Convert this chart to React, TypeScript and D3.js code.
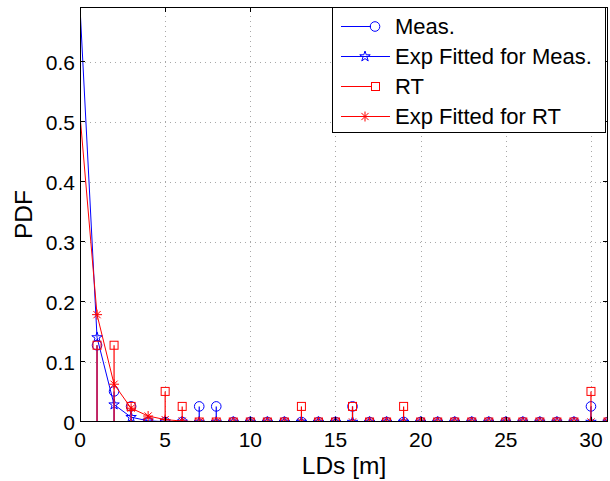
import React from 'react';
import * as d3 from 'd3';

// LD values (m)
const LD = [0, 1, 2, 3, 4, 5, 6, 7, 8, 9, 10, 11, 12, 13, 14, 15, 16, 17, 18, 19, 20, 21, 22, 23, 24, 25, 26, 27, 28, 29, 30, 31];
// Measured PDF (stems), from x = 1
const MEAS = [null, 0.128, 0.051, 0.026, 0, 0, 0, 0.026, 0.026, 0, 0, 0, 0, 0, 0, 0, 0.026, 0, 0, 0, 0, 0, 0, 0, 0, 0, 0, 0, 0, 0, 0.026, 0];
// Exponential fit for measurement
const EXP_MEAS = [0.692, 0.141, 0.029, 0.008, 0.002, 0.0005, 0.0001, 0, 0, 0, 0, 0, 0, 0, 0, 0, 0, 0, 0, 0, 0, 0, 0, 0, 0, 0, 0, 0, 0, 0, 0, 0];
// Ray tracing PDF (stems)
const RT = [null, 0.128, 0.128, 0.026, 0, 0.051, 0.026, 0, 0, 0, 0, 0, 0, 0.026, 0, 0, 0.026, 0, 0, 0.026, 0, 0, 0, 0, 0, 0, 0, 0, 0, 0, 0.051, 0];
// Exponential fit for RT
const EXP_RT = [0.512, 0.179, 0.063, 0.023, 0.01, 0.004, 0.0015, 0.0005, 0.0002, 0, 0, 0, 0, 0, 0, 0, 0, 0, 0, 0, 0, 0, 0, 0, 0, 0, 0, 0, 0, 0, 0, 0];

const X_TICKS = [0, 5, 10, 15, 20, 25, 30];
const Y_TICKS = [0, 0.1, 0.2, 0.3, 0.4, 0.5, 0.6];
const LEGEND = ['Meas.', 'Exp Fitted for Meas.', 'RT', 'Exp Fitted for RT'];

const W = 610, H = 481;
const L = 80, R = 608, T = 7, B = 422;
const FONT = '"Liberation Sans", Arial, Helvetica, sans-serif';
const BLUE = '#0000ff';
const RED = '#ff0000';

const x = d3.scaleLinear().domain([0, 31]).range([L, R]);
const y = d3.scaleLinear().domain([0, 0.692]).range([B, T]);

function starPath(cx: number, cy: number, Ro = 5.5) {
  const ri = Ro * 0.382;
  const pts: string[] = [];
  for (let i = 0; i < 10; i++) {
    const a = -Math.PI / 2 + (i * Math.PI) / 5;
    const r = i % 2 === 0 ? Ro : ri;
    pts.push(`${cx + r * Math.cos(a)},${cy + r * Math.sin(a)}`);
  }
  return 'M' + pts.join('L') + 'Z';
}

function asteriskPath(cx: number, cy: number, s = 5) {
  const d = s * 0.72;
  return `M${cx},${cy - s}L${cx},${cy + s}M${cx - s},${cy}L${cx + s},${cy}M${cx - d},${cy - d}L${cx + d},${cy + d}M${cx - d},${cy + d}L${cx + d},${cy - d}`;
}

const Circle = ({ cx, cy }: { cx: number; cy: number }) => (
  <circle cx={cx} cy={cy} r={4.8} fill="none" stroke={BLUE} strokeWidth={1} />
);
const Square = ({ cx, cy }: { cx: number; cy: number }) => (
  <rect x={cx - 4} y={cy - 4} width={8} height={8} fill="none" stroke={RED} strokeWidth={1} />
);
const Star = ({ cx, cy }: { cx: number; cy: number }) => (
  <path d={starPath(cx, cy)} fill="none" stroke={BLUE} strokeWidth={1} />
);
const Asterisk = ({ cx, cy }: { cx: number; cy: number }) => (
  <path d={asteriskPath(cx, cy)} fill="none" stroke={RED} strokeWidth={1} />
);

export default function App() {
  const lineGen = d3.line<number>().x((_, i) => x(LD[i])).y((d) => y(d));
  const stemIdx = LD.map((_, i) => i).filter((i) => MEAS[i] !== null);

  return (
    <svg width={W} height={H} style={{ position: 'absolute', left: 0, top: 0, background: '#fff' }}>
      <defs>
        <clipPath id="plot">
          <rect x={L} y={T} width={R - L} height={B - T} />
        </clipPath>
      </defs>
      <rect x={0} y={0} width={W} height={H} fill="#fff" />
      {/* grid */}
      <g stroke="#a8a8a8" strokeWidth={1} strokeDasharray="1 4">
        {X_TICKS.filter((t) => t > 0).map((t) => (
          <line key={'gx' + t} x1={Math.round(x(t)) + 0.5} x2={Math.round(x(t)) + 0.5} y1={B} y2={T} />
        ))}
        {Y_TICKS.filter((t) => t > 0).map((t) => (
          <line key={'gy' + t} x1={L} x2={R} y1={Math.round(y(t)) + 0.5} y2={Math.round(y(t)) + 0.5} />
        ))}
      </g>
      <g clipPath="url(#plot)">
        {/* Meas stems */}
        {stemIdx.map((i) => (
          <line key={'ms' + i} x1={x(LD[i])} x2={x(LD[i])} y1={y(0)} y2={y(MEAS[i] as number)} stroke={BLUE} strokeWidth={1.2} />
        ))}
        {stemIdx.map((i) => (
          <Circle key={'mc' + i} cx={x(LD[i])} cy={y(MEAS[i] as number)} />
        ))}
        {/* Exp fit meas */}
        <path d={lineGen(EXP_MEAS) || ''} fill="none" stroke={BLUE} strokeWidth={1} />
        {LD.filter((v) => v > 0).map((v) => (
          <Star key={'st' + v} cx={x(v)} cy={y(EXP_MEAS[v])} />
        ))}
        {/* RT stems */}
        {stemIdx.map((i) => (
          <line key={'rs' + i} x1={x(LD[i])} x2={x(LD[i])} y1={y(0)} y2={y(RT[i] as number)} stroke={RED} strokeWidth={1.2} />
        ))}
        {stemIdx.map((i) => (
          <Square key={'rq' + i} cx={x(LD[i])} cy={y(RT[i] as number)} />
        ))}
        {/* Exp fit RT */}
        <path d={lineGen(EXP_RT) || ''} fill="none" stroke={RED} strokeWidth={1} />
        {LD.filter((v) => v > 0).map((v) => (
          <Asterisk key={'as' + v} cx={x(v)} cy={y(EXP_RT[v])} />
        ))}
      </g>
      {/* axes box */}
      <rect x={L + 0.5} y={T + 0.5} width={R - L - 1} height={B - T - 1} fill="none" stroke="#000" strokeWidth={1} />
      <g stroke="#000" strokeWidth={1}>
        {X_TICKS.map((t) => {
          const px = Math.round(x(t)) + 0.5;
          return (
            <g key={'xt' + t}>
              <line x1={px} x2={px} y1={B} y2={B - 5} />
              <line x1={px} x2={px} y1={T} y2={T + 5} />
            </g>
          );
        })}
        {Y_TICKS.map((t) => {
          const py = Math.round(y(t)) - 0.5;
          return (
            <g key={'yt' + t}>
              <line x1={L} x2={L + 5} y1={py} y2={py} />
              <line x1={R} x2={R - 5} y1={py} y2={py} />
            </g>
          );
        })}
      </g>
      {/* tick labels */}
      <g fontFamily={FONT} fontSize={21} fill="#000">
        {X_TICKS.map((t) => (
          <text key={'xl' + t} x={x(t)} y={447} textAnchor="middle">{t}</text>
        ))}
        {Y_TICKS.map((t) => (
          <text key={'yl' + t} x={75} y={y(t) + 7.5} textAnchor="end">{t === 0 ? '0' : t.toFixed(1)}</text>
        ))}
      </g>
      {/* axis labels */}
      <text x={(L + R) / 2} y={474} textAnchor="middle" fontFamily={FONT} fontSize={24.5}>LDs [m]</text>
      <text transform={`translate(31.5, ${(T + B) / 2}) rotate(-90)`} textAnchor="middle" fontFamily={FONT} fontSize={24.5}>PDF</text>
      {/* legend */}
      <rect x={332.5} y={7.5} width={273} height={125} fill="#fff" stroke="#000" strokeWidth={1} />
      {LEGEND.map((name, i) => {
        const ly = 26.5 + i * 30;
        const stem = i === 0 || i === 2;
        const color = i < 2 ? BLUE : RED;
        return (
          <g key={'lg' + i}>
            <line x1={341} x2={stem ? 371 : 390} y1={ly} y2={ly} stroke={color} strokeWidth={1} />
            {i === 0 && <Circle cx={375} cy={ly} />}
            {i === 1 && <Star cx={365} cy={ly} />}
            {i === 2 && <Square cx={375.5} cy={ly} />}
            {i === 3 && <Asterisk cx={365} cy={ly} />}
            <text x={395} y={ly + 7.5} fontFamily={FONT} fontSize={22}>{name}</text>
          </g>
        );
      })}
    </svg>
  );
}
